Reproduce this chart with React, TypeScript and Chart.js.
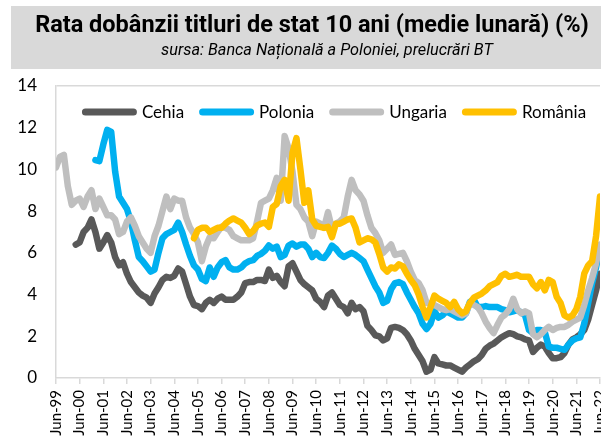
import React, { useEffect, useRef } from 'react';
import { Chart, registerables } from 'chart.js';

Chart.register(...registerables);

// Tick labels of the x axis (one every 12 months, starting Jun-99)
const xTickLabels = [
  'Jun-99', 'Jun-00', 'Jun-01', 'Jun-02', 'Jun-03', 'Jun-04', 'Jun-05', 'Jun-06',
  'Jun-07', 'Jun-08', 'Jun-09', 'Jun-10', 'Jun-11', 'Jun-12', 'Jun-13', 'Jun-14',
  'Jun-15', 'Jun-16', 'Jun-17', 'Jun-18', 'Jun-19', 'Jun-20', 'Jun-21', 'Jun-22',
];

// Observation dates: months since Jun-99, sampled every two months
const sampleMonths: number[] = Array.from({ length: 139 }, (_, k) => 2 * k);

const seriesNames = ['Cehia', 'Polonia', 'Ungaria', 'România'];

const cehia = [
  null, null, null, null, null, 6.4, 6.5, 7.0, 7.2, 7.6,
  7.0, 6.2, 6.5, 6.85, 6.5, 5.8, 5.4, 5.55, 5.0, 4.6,
  4.35, 4.1, 3.95, 3.85, 3.6, 4.05, 4.35, 4.7, 4.85, 4.8,
  4.9, 5.25, 5.1, 4.5, 3.9, 3.5, 3.45, 3.3, 3.6, 3.75,
  3.6, 3.8, 3.9, 3.75, 3.75, 3.75, 3.9, 4.1, 4.55, 4.6,
  4.6, 4.7, 4.7, 4.65, 5.2, 4.8, 4.9, 4.6, 4.4, 5.35,
  5.5, 5.1, 4.7, 4.5, 4.35, 4.2, 3.8, 3.65, 3.4, 3.95,
  4.1, 3.8, 3.5, 3.4, 3.1, 3.6, 3.3, 3.4, 3.2, 2.5,
  2.3, 2.05, 2.0, 1.8, 1.9, 2.4, 2.45, 2.4, 2.3, 2.1,
  1.8, 1.4, 1.1, 0.8, 0.3, 0.4, 1.0, 0.7, 0.65, 0.6,
  0.6, 0.5, 0.4, 0.3, 0.5, 0.65, 0.8, 0.9, 1.1, 1.4,
  1.55, 1.65, 1.8, 1.95, 2.05, 2.15, 2.1, 2.0, 1.95, 1.85,
  1.8, 1.25, 1.45, 1.6, 1.5, 1.2, 0.95, 0.95, 1.0, 1.2,
  1.6, 1.85, 1.95, 2.1, 2.3, 2.8, 3.5, 4.2, 5.0,
];

const polonia = [
  null, null, null, null, null, null, null, null, null, null,
  10.45, 10.4, 11.2, 11.9, 11.8, 9.9, 8.7, 8.4, 8.1, 7.5,
  6.6, 5.8, 5.6, 5.35, 5.1, 5.2, 6.0, 6.7, 6.9, 7.0,
  7.1, 7.45, 7.0, 6.4, 5.85, 5.4, 5.2, 4.75, 4.65, 5.3,
  4.85, 5.3, 5.55, 5.65, 5.3, 5.2, 5.2, 5.3, 5.5, 5.6,
  5.65, 5.85, 5.95, 6.1, 6.35, 6.2, 6.3, 5.8, 5.9, 6.35,
  6.45, 6.3, 6.4, 6.4, 6.2, 5.8, 6.0, 5.8, 5.75, 6.0,
  6.35, 6.2, 5.95, 5.8, 5.9, 6.0, 5.9, 5.75, 5.6, 5.2,
  4.8, 4.4, 4.1, 3.6, 3.7, 4.25, 4.55, 4.6, 4.5, 4.1,
  3.75, 3.4, 3.1, 2.6, 2.35, 2.6, 3.2, 2.9, 3.0, 3.2,
  3.1, 3.0, 2.9, 2.9, 3.1, 3.65, 3.75, 3.4, 3.4, 3.45,
  3.4, 3.4, 3.4, 3.3, 3.25, 3.15, 3.2, 3.25, 3.15, 3.0,
  2.3, 2.15, 2.3, 2.3, 2.2, 1.5, 1.45, 1.45, 1.4, 1.35,
  1.6, 1.8, 1.9, 1.95, 2.6, 3.6, 4.55, 5.3, 6.3,
];

const ungaria = [
  10.1, 10.6, 10.7, 9.2, 8.3, 8.5, 8.6, 8.2, 8.7, 9.0,
  8.1, 8.6, 8.2, 7.8, 7.8, 7.6, 6.9, 7.0, 7.5, 7.7,
  7.3, 6.8, 6.5, 6.2, 6.0, 6.8, 7.3, 8.0, 8.7, 8.1,
  8.6, 8.5, 8.5, 7.7, 7.2, 6.9, 6.5, 5.6, 6.3, 6.75,
  6.7, 7.0, 7.25, 7.2, 7.1, 6.8, 6.7, 6.6, 6.6, 6.6,
  6.7, 7.5, 8.4, 8.5, 8.6, 9.0, 9.6, 8.5, 11.6, 11.0,
  9.9, 8.3, 8.1, 7.7, 7.5, 6.8, 7.5, 7.4, 7.2, 7.95,
  7.15, 7.4, 7.5, 7.7, 8.7, 9.5, 9.0, 8.8, 8.5, 7.8,
  7.2, 6.95, 6.6, 6.0, 6.2, 6.4, 5.9, 5.95, 6.0, 5.6,
  5.1, 4.7, 4.55, 4.2, 3.6, 3.55, 3.5, 3.4, 3.3, 3.25,
  3.3, 3.2, 3.1, 3.0, 3.1, 3.6, 3.5, 3.4, 3.1, 2.7,
  2.4, 2.15, 2.55, 2.9, 3.05, 3.3, 3.8, 3.3, 3.1, 3.2,
  3.1, 2.1, 1.95, 2.1, 2.3, 2.45, 2.3, 2.4, 2.45, 2.45,
  2.55, 2.7, 2.8, 2.9, 3.5, 4.2, 4.8, 5.5, 6.4,
];

const romania = [
  null, null, null, null, null, null, null, null, null, null,
  null, null, null, null, null, null, null, null, null, null,
  null, null, null, null, null, null, null, null, null, null,
  null, null, null, null, null, 6.7, 7.1, 7.2, 7.2, 7.0,
  7.1, 7.2, 7.2, 7.4, 7.55, 7.65, 7.55, 7.45, 7.2, 6.9,
  7.05, 7.3, 7.4, 7.45, 7.25, 8.2, 8.35, 9.2, 9.5, 8.5,
  10.8, 11.5, 10.0, 8.4, 9.0, 7.6, 7.3, 7.25, 7.2, 7.25,
  6.75, 7.4, 7.4, 7.5, 7.6, 7.65, 7.2, 6.5, 6.6, 6.7,
  6.65, 6.5, 5.95, 5.3, 5.1, 5.3, 5.25, 5.45, 5.35, 5.0,
  4.7, 4.45, 4.0, 3.4, 2.9, 3.4, 3.95, 3.8, 3.7, 3.6,
  3.4, 3.65, 3.3, 3.1, 3.2, 3.6, 3.85, 3.95, 4.05, 4.2,
  4.4, 4.5, 4.6, 4.9, 5.0, 4.85, 4.9, 4.95, 4.85, 4.85,
  4.85, 4.5, 4.3, 4.6, 4.2, 4.7, 4.6, 3.9, 3.6, 3.0,
  2.9, 3.0, 3.3, 3.9, 5.0, 5.4, 5.6, 6.8, 8.7,
];

const seriesValues = [cehia, polonia, ungaria, romania];
const seriesColors = ['#595959', '#00B0F0', '#BFBFBF', '#FFC000'];
// Drawing order: România on top, as in the reference
const seriesOrder = [3, 2, 1, 0];

const CANVAS_W = 601;
const CANVAS_H = 462;
const PLOT_TOP = 86;
const PLOT_BOTTOM = 378;
const PLOT_LEFT = 56;
const FONT = 'Lato, "Open Sans", sans-serif';
const TITLE_FONT = 'Roboto, "Noto Sans", sans-serif';

// Horizontal legend drawn inside the top of the plot area
const insideLegend = {
  id: 'insideLegend',
  afterDraw(chart: any) {
    const { ctx, chartArea } = chart;
    const sampleW = 55;
    const sampleH = 7;
    const gapText = 5;
    const gapItem = 15;
    const centerY = chartArea.top + 26;
    ctx.save();
    ctx.font = `17px ${FONT}`;
    const items = chart.data.datasets.map((ds: any) => ({
      text: ds.label as string,
      color: ds.borderColor as string,
      w: ctx.measureText(ds.label).width,
    }));
    const total =
      items.reduce((s: number, it: any) => s + sampleW + gapText + it.w, 0) +
      gapItem * (items.length - 1);
    let x = (chartArea.left + chartArea.right) / 2 + 6 - total / 2;
    ctx.textBaseline = 'middle';
    ctx.textAlign = 'left';
    for (const it of items) {
      ctx.fillStyle = it.color;
      ctx.beginPath();
      (ctx as any).roundRect(x, centerY - sampleH / 2, sampleW, sampleH, sampleH / 2);
      ctx.fill();
      x += sampleW + gapText;
      ctx.fillStyle = '#000';
      ctx.fillText(it.text, x, centerY + 1);
      x += it.w + gapItem;
    }
    ctx.restore();
  },
};

export default function App() {
  const canvasRef = useRef<HTMLCanvasElement | null>(null);

  useEffect(() => {
    const canvas = canvasRef.current;
    if (!canvas) return;
    const datasets = seriesNames.map((name, i) => ({
      label: name,
      data: seriesValues[i].map((v, k) => ({ x: sampleMonths[k], y: v })),
      borderColor: seriesColors[i],
      backgroundColor: seriesColors[i],
      borderWidth: 6.5,
      pointRadius: 0,
      tension: 0,
      spanGaps: false,
      borderCapStyle: 'round' as const,
      borderJoinStyle: 'round' as const,
      order: seriesOrder[i],
    }));

    const chart = new Chart(canvas, {
      type: 'line',
      data: { datasets },
      plugins: [insideLegend],
      options: {
        responsive: false,
        animation: false,
        layout: { padding: { top: PLOT_TOP, right: 1, left: 0, bottom: 0 } },
        plugins: {
          tooltip: { enabled: false },
          legend: { display: false },
        },
        scales: {
          x: {
            type: 'linear',
            min: 0,
            max: (xTickLabels.length - 1) * 12,
            afterBuildTicks: (s: any) => {
              s.ticks = xTickLabels.map((_, i) => ({ value: i * 12 }));
            },
            afterFit: (s: any) => {
              s.height = CANVAS_H - PLOT_BOTTOM;
              s.paddingLeft = 0;
              s.paddingRight = 0;
            },
            ticks: {
              autoSkip: false,
              minRotation: 90,
              maxRotation: 90,
              padding: 6,
              color: '#000',
              font: { family: FONT, size: 15 },
              callback: (v: any) => xTickLabels[Math.round(Number(v) / 12)],
            },
            grid: {
              drawOnChartArea: false,
              drawTicks: true,
              tickLength: 6,
              color: '#D9D9D9',
              lineWidth: 1.5,
            },
            border: { color: '#D9D9D9', width: 1.5 },
          },
          y: {
            min: 0,
            max: 14,
            afterFit: (s: any) => {
              s.width = PLOT_LEFT;
            },
            ticks: {
              stepSize: 2,
              padding: 19,
              color: '#000',
              font: { family: FONT, size: 17 },
            },
            grid: {
              drawTicks: false,
              lineWidth: 1.5,
              color: (ctx: any) =>
                ctx.tick && ctx.tick.value === 14 ? '#D9D9D9' : 'rgba(0,0,0,0)',
            },
            border: { color: '#D9D9D9', width: 1.5 },
          },
        },
      },
    });
    return () => chart.destroy();
  }, []);

  return (
    <div
      style={{
        position: 'fixed',
        left: 0,
        top: 0,
        width: 601,
        height: 445,
        overflow: 'hidden',
        background: '#fff',
      }}
    >
      <canvas
        ref={canvasRef}
        width={CANVAS_W}
        height={CANVAS_H}
        style={{ position: 'absolute', left: 0, top: 0, width: CANVAS_W, height: CANVAS_H }}
      />
      <div
        style={{
          position: 'absolute',
          left: 11,
          top: 6,
          width: 590,
          height: 63,
          background: '#D9D9D9',
        }}
      />
      <div
        style={{
          position: 'absolute',
          left: 0,
          top: 10,
          width: 624,
          textAlign: 'center',
          whiteSpace: 'nowrap',
          fontFamily: TITLE_FONT,
          fontWeight: 700,
          fontSize: 23.5,
          lineHeight: '28px',
          color: '#000',
        }}
      >
        Rata dobânzii titluri de stat 10 ani (medie lunară) (%)
      </div>
      <div
        style={{
          position: 'absolute',
          left: 0,
          top: 40,
          width: 654,
          textAlign: 'center',
          whiteSpace: 'nowrap',
          fontFamily: TITLE_FONT,
          fontStyle: 'italic',
          fontSize: 16.3,
          lineHeight: '20px',
          color: '#000',
        }}
      >
        sursa: Banca Națională a Poloniei, prelucrări BT
      </div>
    </div>
  );
}
